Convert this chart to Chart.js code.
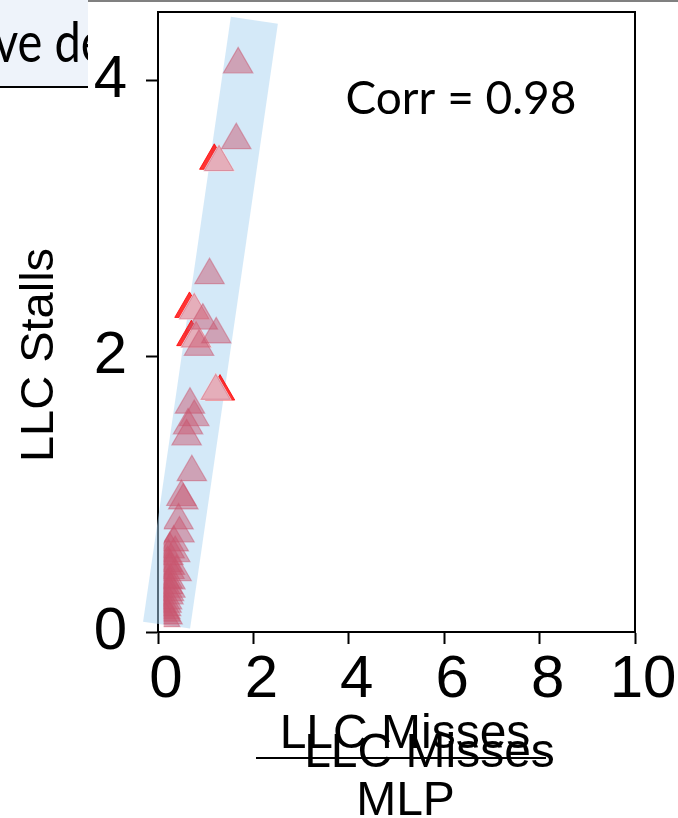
<!DOCTYPE html>
<html><head><meta charset="utf-8">
<script src="https://cdn.jsdelivr.net/npm/chart.js@4"></script>
<style>html,body{margin:0;padding:0;background:#fff;overflow:hidden}</style>
</head><body>
<canvas id="c" width="678" height="818"></canvas>
<script>
const xTicks = [0, 2, 4, 6, 8, 10];
const yTicks = [0, 2, 4];
const pinkX = [1.68, 1.64, 1.28, 1.08, 0.76, 0.94, 1.22, 0.80, 0.86, 1.21, 0.67, 0.76, 0.63, 0.60, 0.71, 0.49, 0.53, 0.43, 0.45,
               0.245, 0.33, 0.36, 0.39, 0.26, 0.26, 0.22, 0.18, 0.155, 0.20, 0.25, 0.20, 0.20,
               0.22, 0.24, 0.21, 0.23, 0.19, 0.17, 0.16, 0.15];
const pinkY = [4.12, 3.57, 3.41, 2.59, 2.335, 2.26, 2.16, 2.13, 2.07, 1.75, 1.65, 1.56, 1.50, 1.42, 1.16, 0.98, 0.955, 0.81, 0.715,
               0.60, 0.65, 0.573, 0.435, 0.375, 0.314, 0.266, 0.205, 0.158, 0.50, 0.48, 0.38, 0.12,
               0.55, 0.45, 0.34, 0.29, 0.23, 0.18, 0.14, 0.10];
const redX = [1.18, 0.66, 0.70, 1.30];
const redY = [3.42, 2.345, 2.14, 1.745];
const bandX = [0.18, 2.02];
const bandY = [0.05, 4.44];
const corrLabel = 'Corr = 0.98';
const xTitle = 'LLC Misses';
const xTitleDenominator = 'MLP';
const yTitle = 'LLC Stalls';
const fragmentText = 've de';
// pink markers that sit over a red marker (drawn over an opaque backing)
const coveringIdx = [2, 4, 7, 9];

const pts = (xs, ys) => xs.map((x, i) => ({x: x, y: ys[i]}));
const PINK = 'rgba(200,85,110,0.48)';
const tickFont = {family: '"Liberation Sans", Arial, sans-serif', size: 60};
const leftClip = {left: -5.7, top: false, right: false, bottom: false};

const decor = {
  id: 'decor',
  afterDraw(chart) {
    const ctx = chart.ctx, a = chart.chartArea;
    ctx.save();
    ctx.strokeStyle = '#000'; ctx.lineWidth = 2;
    ctx.beginPath();
    ctx.moveTo(a.left - 1, a.top); ctx.lineTo(a.right, a.top); ctx.lineTo(a.right, a.bottom);
    ctx.stroke();
    ctx.fillStyle = '#000';
    ctx.font = '46px Lato, sans-serif';
    ctx.textAlign = 'center'; ctx.textBaseline = 'alphabetic';
    ctx.fillText(corrLabel, 461, 114);
    ctx.font = '48px "Liberation Sans", Arial, sans-serif';
    ctx.fillText(xTitle, 405, 748);
    ctx.fillText(xTitle, 429.5, 767);
    ctx.fillText(xTitleDenominator, 405.5, 815);
    ctx.fillRect(256, 757, 290, 2);
    ctx.save();
    ctx.translate(53, 355); ctx.rotate(-Math.PI / 2);
    ctx.font = '47px "Liberation Sans", Arial, sans-serif';
    ctx.fillText(yTitle, 0, 0);
    ctx.restore();
    ctx.fillStyle = '#eef3fa';
    ctx.fillRect(0, 0, 88, 87);
    ctx.save();
    ctx.beginPath(); ctx.rect(0, 0, 88, 87); ctx.clip();
    ctx.fillStyle = '#000';
    ctx.textAlign = 'left';
    ctx.font = '56px Lato, sans-serif';
    ctx.save(); ctx.translate(-6, 62); ctx.scale(0.84, 1);
    ctx.fillText(fragmentText, 0, 0);
    ctx.restore();
    ctx.restore();
    ctx.fillStyle = '#000';
    ctx.fillRect(0, 86, 88, 2);
    ctx.fillStyle = '#808080';
    ctx.fillRect(88, 0, 590, 2);
    ctx.restore();
  }
};

new Chart(document.getElementById('c'), {
  type: 'scatter',
  data: {
    datasets: [
      { data: pts(bandX, bandY), showLine: true, borderColor: 'rgba(169,211,241,0.5)', borderWidth: 47.5,
        borderCapStyle: 'butt', pointRadius: 0, clip: false, order: 4 },
      { data: pts(redX, redY), pointStyle: 'triangle', pointRadius: 17, backgroundColor: 'rgba(255,0,0,0.8)',
        borderColor: 'rgba(255,0,0,0.8)', borderWidth: 1, order: 3 },
      { data: coveringIdx.map(i => ({x: pinkX[i], y: pinkY[i]})), pointStyle: 'triangle', pointRadius: 17,
        backgroundColor: '#fff', borderColor: '#fff', borderWidth: 1.5, order: 2, clip: leftClip },
      { data: pts(pinkX, pinkY), pointStyle: 'triangle', pointRadius: 17, backgroundColor: PINK,
        borderColor: PINK, borderWidth: 1.2, order: 1, clip: leftClip }
    ]
  },
  options: {
    responsive: false, animation: false, events: [],
    layout: { autoPadding: false, padding: {top: 12, right: 43, left: 0, bottom: 0} },
    plugins: { legend: {display: false}, tooltip: {enabled: false} },
    scales: {
      x: {
        type: 'linear', min: 0, max: 10,
        afterBuildTicks: s => { s.ticks = xTicks.map(v => ({value: v})); },
        ticks: { font: tickFont, color: '#000', padding: 0, labelOffset: 8, maxRotation: 0, autoSkip: false },
        grid: { drawOnChartArea: false, drawTicks: true, tickLength: 12, tickWidth: 2, tickColor: '#000' },
        border: { display: true, color: '#000', width: 2 },
        afterFit: s => { s.height = 186; s.paddingLeft = 0; s.paddingRight = 0; }
      },
      y: {
        type: 'linear', min: 0, max: 4.5,
        afterBuildTicks: s => { s.ticks = yTicks.map(v => ({value: v})); },
        ticks: { font: tickFont, color: '#000', padding: 19, autoSkip: false },
        grid: { drawOnChartArea: false, drawTicks: true, tickLength: 12, tickWidth: 2, tickColor: '#000' },
        border: { display: true, color: '#000', width: 2 },
        afterFit: s => { s.width = 158; s.paddingTop = 0; s.paddingBottom = 0; }
      }
    }
  },
  plugins: [decor]
});
</script>
</body></html>
